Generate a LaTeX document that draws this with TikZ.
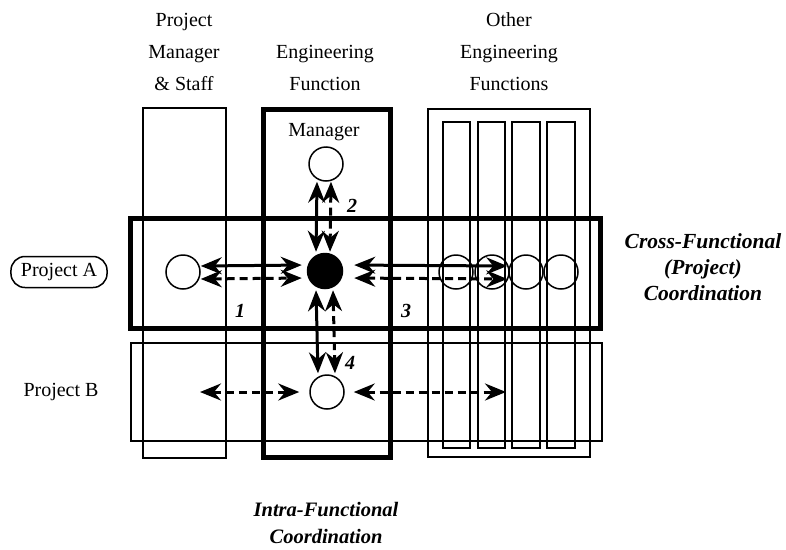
\documentclass[tikz,border=0pt]{standalone}
\usepackage{fontspec}
\setmainfont{Liberation Serif}
\usetikzlibrary{arrows.meta}
\begin{document}
\begin{tikzpicture}[x=1pt,y=-1pt,
  thinbox/.style={line width=1.5pt},
  thickbox/.style={line width=5pt},
  circ/.style={circle,draw,line width=1.5pt,minimum size=34pt,inner sep=0pt},
  fcirc/.style={circle,fill=black,draw,line width=1.5pt,minimum size=35pt,inner sep=0pt},
  ocirc/.style={circle,draw,line width=1.5pt,minimum size=34pt,inner sep=0pt},
  conn/.style={line width=3pt,{Stealth[length=21pt,width=17pt,inset=7pt]}-{Stealth[length=21pt,width=17pt,inset=7pt]}},
  dconn/.style={conn,dash pattern=on 8pt off 5pt},
  lbl/.style={font=\fontsize{20}{32}\selectfont,align=center,anchor=base,inner sep=0pt},
  blbl/.style={font=\fontsize{21.5}{26}\selectfont\bfseries\itshape,align=center,anchor=base,inner sep=0pt},
  num/.style={font=\fontsize{20}{24}\selectfont\bfseries\itshape,inner sep=0pt}
]
\useasboundingbox (0,0) rectangle (786,549);
% column and row boxes
\draw[thinbox] (143,108) rectangle (226,458);
\draw[thinbox] (428,109) rectangle (590,457);
\draw[thinbox] (443,122) rectangle (470,448);
\draw[thinbox] (478,122) rectangle (505,448);
\draw[thinbox] (512,122) rectangle (540,448);
\draw[thinbox] (547,122) rectangle (575,448);
\draw[thinbox] (131,343) rectangle (602,441);
\draw[thickbox] (263.5,109.5) rectangle (390,457);
\draw[thickbox] (130,218) rectangle (600,328);

% headings (base anchor = last line baseline)
\node[lbl] (h1) at (184,90) {Project\\Manager\\\& Staff};
\node[lbl] (h2) at (325,90) {Engineering\\Function};
\node[lbl] (h3) at (509,90) {Other\\Engineering\\Functions};
\node[lbl] (mgt) at (324,136) {Manager};
\node[font=\fontsize{20}{24}\selectfont,draw,line width=1.5pt,rounded corners=14pt,minimum height=31pt,inner xsep=10pt,inner ysep=0pt] (pa) at (59,272) {Project A};
\node[font=\fontsize{20}{24}\selectfont,anchor=base,inner sep=0pt] (pbt) at (61,396) {Project B};
\node[blbl] (cf) at (703,300) {Cross-Functional\\(Project)\\Coordination};
\node[blbl,font=\fontsize{20.5}{27}\selectfont\bfseries\itshape] (inf) at (326,543) {Intra-Functional\\Coordination};

% circles
\node[circ,fill=white] (lc) at (183,272) {};
\node[fcirc] (ce) at (325,271) {};
\node[circ,fill=white] (mg) at (326,164) {};
\node[circ,fill=white] (pb) at (327,392) {};
\node[ocirc] (o1) at (456,272) {};
\node[ocirc] (o2) at (492,272) {};
\node[ocirc] (o3) at (526,272) {};
\node[ocirc] (o4) at (561,272) {};
\coordinate (pbl) at (200,392);
\coordinate (pbr) at (506,392);

% connectors
\draw[conn,shorten >=5pt] ([yshift=6pt]lc.east) -- ([yshift=6pt]ce.west);
\draw[dconn,shorten >=5pt] ([yshift=-7pt]lc.east) -- ([yshift=-7pt]ce.west);
\draw[conn,shorten >=1pt] ([xshift=-9pt]mg.south) -- ([xshift=-9pt]ce.north);
\draw[dconn,shorten >=1pt] ([xshift=5pt]mg.south) -- ([xshift=5pt]ce.north);
\draw[conn,shorten <=11pt,shorten >=1pt] ([yshift=6pt]ce.east) -- ([yshift=6pt]o3.west);
\draw[dconn,shorten <=11pt,shorten >=1pt] ([yshift=-7pt]ce.east) -- ([yshift=-7pt]o3.west);
\draw[conn,shorten <=1pt,shorten >=1pt] ([xshift=-9pt]ce.south) -- ([xshift=-9pt]pb.north);
\draw[dconn,shorten <=1pt,shorten >=1pt] ([xshift=8pt]ce.south) -- ([xshift=8pt]pb.north);
\draw[dconn,shorten >=10pt] (pbl) -- (pb.west);
\draw[dconn,shorten <=9pt] (pb.east) -- (pbr);

% numbers
\node[num] (n1) at (240,311) {1};
\node[num] (n2) at (352,206) {2};
\node[num] (n3) at (406,311) {3};
\node[num] (n4) at (350,363) {4};
\end{tikzpicture}
\end{document}
